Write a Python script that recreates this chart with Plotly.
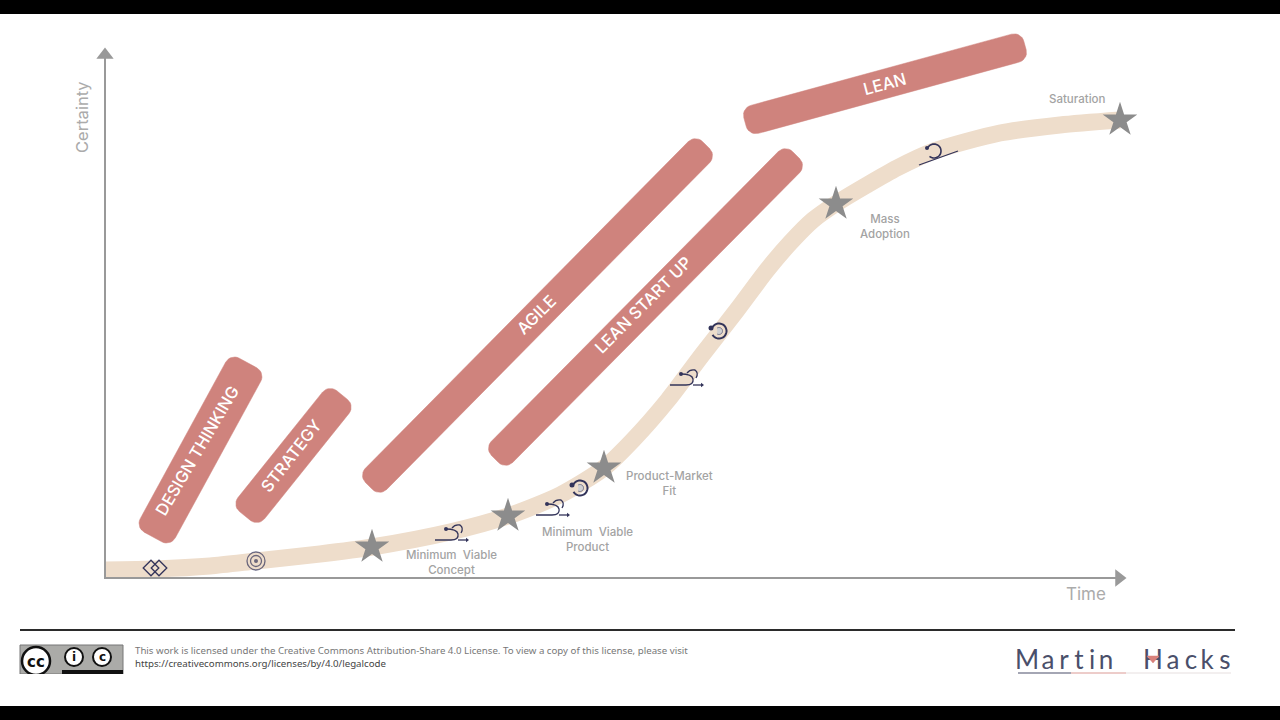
import numpy as np
import plotly.graph_objects as go

curve_x = [105, 155, 210, 256, 320, 372, 450, 508, 560, 604, 633, 668, 702, 737, 767, 790, 813, 837, 867, 897, 934, 1000, 1060, 1120]
curve_y = [570, 569, 566, 561, 554, 547, 532, 516, 495, 468, 440, 400, 355, 310, 270, 243, 220, 203, 185, 168, 151, 133, 125, 120]

star_x = [372, 508, 604, 836, 1120]
star_y = [547, 516, 468, 204, 120]

bar_names = ["DESIGN THINKING", "STRATEGY", "AGILE", "LEAN START UP", "LEAN"]
bar_start_x = [153, 245, 369, 495, 745]
bar_start_y = [537, 516, 486, 459, 122]
bar_end_x = [248, 342, 706, 796, 1025]
bar_end_y = [363, 395, 145, 155, 45.5]
bar_width = [40, 34, 30, 30, 29]
bar_label_x = [197, 291, 536, 643, 884]
bar_label_y = [451, 456, 315, 305, 84]
bar_label_angle = [-59.5, -52, -45, -45, -15]

stage_labels = ["Saturation", "Mass<br>Adoption", "Product-Market<br>Fit",
                "Minimum  Viable<br>Product", "Minimum  Viable<br>Concept"]
stage_x = [1077, 885, 669, 587, 451]
stage_y = [99, 226, 483, 539, 562]

loop_x = [435, 536, 670]
loop_y = [540, 515, 385]
spiral_x = [580, 719]
spiral_y = [488, 331]

logo_letters = list("Martin") + list("Hacks")
logo_x = [1027, 1048, 1064, 1079, 1092, 1106, 1153, 1173, 1191, 1207, 1225]

license_lines = [
    "This work is licensed under the Creative Commons Attribution-Share 4.0 License. To view a copy of this license, please visit",
    "https://creativecommons.org/licenses/by/4.0/legalcode",
]

AXIS = "#999999"
BAR = "#CF837D"
BEIGE = "#EEDDCB"
STAR = "#8C8C8C"
INK = "#33345A"
FONT = "Inter"


def bar_outline(x0, y0, x1, y1, width, r=10):
    # four corner arcs swept round the bar
    start, end = np.array([x0, y0], dtype=float), np.array([x1, y1], dtype=float)
    d = (end - start) / np.hypot(*(end - start))
    n = np.array([-d[1], d[0]])
    phi = np.arctan2(d[1], d[0])
    off = width / 2 - r
    corners = [start + d * r + n * off, start + d * r - n * off, end - d * r - n * off, end - d * r + n * off]
    sweeps = [np.pi / 2, np.pi, 3 * np.pi / 2, 0]
    pts = []
    for c, s in zip(corners, sweeps):
        for a in np.linspace(phi + s, phi + s + np.pi / 2, 8):
            pts.append(c + r * np.array([np.cos(a), np.sin(a)]))
    pts.append(pts[0])
    pts = np.array(pts)
    return pts[:, 0], pts[:, 1]


def arc_path(cx, cy, r, a0, a1):
    t = np.radians(np.linspace(a0, a1, 30))
    return "M" + " L".join(f"{cx + r*np.cos(a):.1f},{cy + r*np.sin(a):.1f}" for a in t)


def path_shape(path, color=INK, width=1.3, fill=None):
    return dict(type="path", path=path, line=dict(color=color, width=width),
                fillcolor=fill, layer="above")


fig = go.Figure()

# the bands of the framework
for i in range(len(bar_names)):
    xs, ys = bar_outline(bar_start_x[i], bar_start_y[i], bar_end_x[i], bar_end_y[i], bar_width[i])
    fig.add_trace(go.Scatter(x=xs, y=ys, mode="lines", fill="toself", fillcolor=BAR,
                             line=dict(color=BAR, width=0.5), hoverinfo="skip"))

# the S-curve
fig.add_trace(go.Scatter(x=curve_x, y=curve_y, mode="lines",
                         line=dict(color=BEIGE, width=17, shape="spline", smoothing=0.7)))

# axes with their arrow tips
fig.add_trace(go.Scatter(x=[105, 105, 1116], y=[55, 578, 578], mode="lines",
                         line=dict(color=AXIS, width=2)))
fig.add_trace(go.Scatter(x=[105], y=[55], mode="markers",
                         marker=dict(symbol="triangle-up", size=15, color=AXIS)))
fig.add_trace(go.Scatter(x=[1119], y=[578], mode="markers",
                         marker=dict(symbol="triangle-right", size=15, color=AXIS)))

# milestones
fig.add_trace(go.Scatter(x=star_x, y=star_y, mode="markers",
                         marker=dict(symbol="star", size=26, color=STAR)))

# two diamonds and the target at the start of the curve
fig.add_trace(go.Scatter(x=[151, 159], y=[568, 568], mode="markers",
                         marker=dict(symbol="diamond-open", size=12, color=INK, line=dict(width=1.3))))
fig.add_trace(go.Scatter(x=[256, 256, 256], y=[561, 561, 561], mode="markers",
                         marker=dict(size=[18, 11, 4], color=["#EEDDCB", "#EEDDCB", INK],
                                     line=dict(color=[INK, INK, INK], width=[1.3, 1.3, 0]))))

shapes = [
    dict(type="rect", x0=0, x1=1280, y0=0, y1=14, fillcolor="#000000", line_width=0, layer="below"),
    dict(type="rect", x0=0, x1=1280, y0=706, y1=720, fillcolor="#000000", line_width=0, layer="below"),
    dict(type="line", x0=20, x1=1235, y0=630, y1=630, line=dict(color="#2B2B2B", width=2)),
    # licence badge
    dict(type="rect", x0=20, x1=123, y0=645, y1=674, fillcolor="#ABABA8", line=dict(color="#777777", width=1)),
    dict(type="rect", x0=62, x1=123, y0=670, y1=674, fillcolor="#111111", line_width=0),
    dict(type="circle", x0=22, x1=50, y0=647, y1=675, fillcolor="#FFFFFF", line=dict(color="#111111", width=2.5)),
    dict(type="circle", x0=65, x1=83, y0=648, y1=666, fillcolor="#FFFFFF", line=dict(color="#111111", width=2)),
    dict(type="circle", x0=93, x1=111, y0=648, y1=666, fillcolor="#FFFFFF", line=dict(color="#111111", width=2)),
    dict(type="rect", x0=15, x1=130, y0=674, y1=680, fillcolor="#FFFFFF", line_width=0),
    # logo underline
    dict(type="line", x0=1018, x1=1071, y0=673, y1=673, line=dict(color="#4A4F6A", width=1.2)),
    dict(type="line", x0=1071, x1=1126, y0=673, y1=673, line=dict(color="#DB9A95", width=1)),
    dict(type="line", x0=1126, x1=1231, y0=673, y1=673, line=dict(color="#E6DFDF", width=1)),
    # logo hourglass
    path_shape("M1147,656 L1159,656 L1153,663 Z", color="#D9817B", width=0.5, fill="#D9817B"),
]

# loop icons
for ox, oy in zip(loop_x, loop_y):
    shapes.append(path_shape(f"M{ox},{oy} L{ox+16},{oy} Q{ox+24},{oy} {ox+23},{oy-6} Q{ox+22},{oy-11} {ox+11},{oy-11}"))
    shapes.append(path_shape(f"M{ox+17},{oy-12} Q{ox+20},{oy-16} {ox+25},{oy-15} Q{ox+29},{oy-12} {ox+26},{oy-7}"))
    shapes.append(path_shape(f"M{ox+23},{oy} L{ox+31},{oy}"))

fig.add_trace(go.Scatter(x=[x + 11 for x in loop_x], y=[y - 11 for y in loop_y], mode="markers",
                         marker=dict(size=4, color=INK)))
fig.add_trace(go.Scatter(x=[x + 32 for x in loop_x], y=loop_y, mode="markers",
                         marker=dict(symbol="triangle-right", size=4, color=INK)))

# spiral icons
for cx, cy in zip(spiral_x, spiral_y):
    shapes.append(path_shape(arc_path(cx, cy, 7.5, -150, 150), width=2))
    shapes.append(path_shape(arc_path(cx, cy, 3.5, -120, 120), color="#6E6E86", width=1, fill="#CFCFD2"))
fig.add_trace(go.Scatter(x=[x - 8 for x in spiral_x], y=[y - 3 for y in spiral_y], mode="markers",
                         marker=dict(size=5, color=INK)))

# hill icon near the top of the curve
shapes.append(path_shape("M919,165 L958,151", width=1.3))
shapes.append(path_shape(arc_path(934, 151, 7, -160, 130), width=1.6))
fig.add_trace(go.Scatter(x=[927], y=[148], mode="markers", marker=dict(size=4, color=INK)))

# logo letters have wide tracking, so each one is placed on its own
fig.add_trace(go.Scatter(x=logo_x, y=[662] * len(logo_x), mode="text", text=logo_letters,
                         textfont=dict(family="Lato", size=26, color="#4A4F6A"),
                         textposition="middle center"))

annotations = []
for i, name in enumerate(bar_names):
    annotations.append(dict(x=bar_label_x[i], y=bar_label_y[i], text=name, textangle=bar_label_angle[i],
                            showarrow=False, font=dict(family=FONT, size=16.5, color="#FFFFFF", weight=500)))
for x, y, text in zip(stage_x, stage_y, stage_labels):
    annotations.append(dict(x=x, y=y, text=text, showarrow=False, align="center",
                            font=dict(family=FONT, size=11.5, color="#A3A3A3", weight=500)))
annotations += [
    dict(x=82, y=117, text="Certainty", textangle=-90, showarrow=False,
         font=dict(family=FONT, size=16.5, color="#ABABAB")),
    dict(x=1086, y=594, text="Time", showarrow=False, font=dict(family=FONT, size=17, color="#ABABAB")),
    dict(x=36, y=662, text="cc", showarrow=False, font=dict(family="DejaVu Sans", size=15, color="#111111", weight=700)),
    dict(x=74, y=657, text="i", showarrow=False, font=dict(family="DejaVu Sans", size=12, color="#111111", weight=700)),
    dict(x=102, y=657, text="c", showarrow=False, font=dict(family="DejaVu Sans", size=12, color="#111111", weight=700)),
    dict(x=133, y=650, text=license_lines[0], showarrow=False, xanchor="left",
         font=dict(family="Noto Sans", size=9.7, color="#777777")),
    dict(x=133, y=663, text=license_lines[1], showarrow=False, xanchor="left",
         font=dict(family="Noto Sans", size=9.7, color="#444444")),
]

fig.update_layout(
    width=1280, height=720,
    margin=dict(l=0, r=0, t=0, b=0),
    paper_bgcolor="#FFFFFF", plot_bgcolor="#FFFFFF",
    showlegend=False,
    xaxis=dict(range=[0, 1280], visible=False),
    yaxis=dict(range=[720, 0], visible=False),
    shapes=shapes,
    annotations=annotations,
)

fig.write_html("out.html", config=dict(displayModeBar=False),
               post_script="document.body.style.margin='0';")
